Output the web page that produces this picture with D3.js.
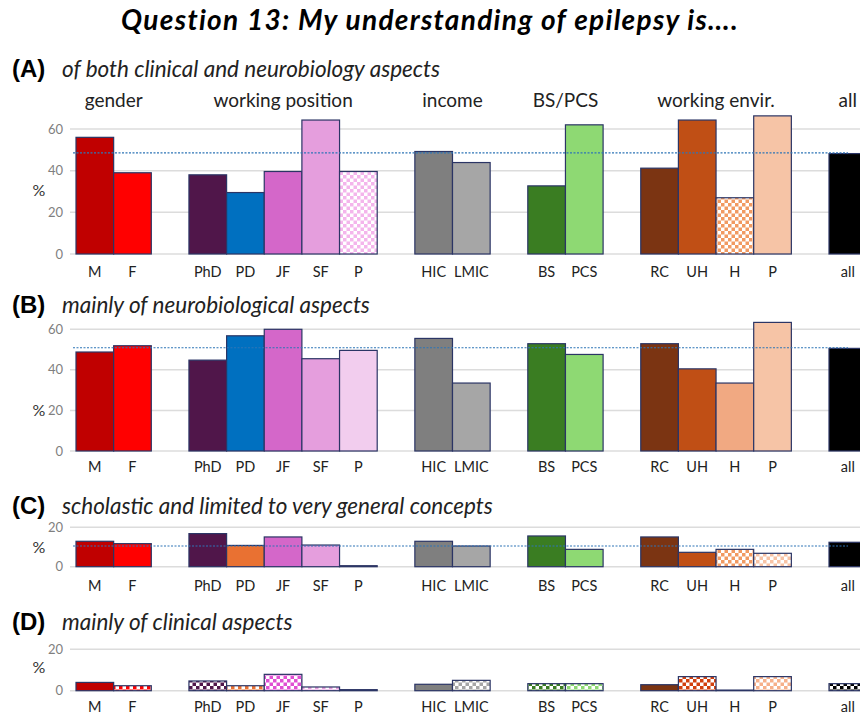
<!DOCTYPE html>
<html lang="en">
<head>
<meta charset="utf-8">
<script src="https://d3js.org/d3.v7.min.js"></script>
<style>
  body { margin: 0; background: #fff; }
  text { font-family: Lato, "Open Sans", sans-serif; }
</style>
</head>
<body>
<svg width="860" height="716"></svg>
<script>
// categories and the group each one belongs to
const categories = ["M", "F", "PhD", "PD", "JF", "SF", "P", "HIC", "LMIC", "BS", "PCS", "RC", "UH", "H", "P", "all"];
const groupOf = [0, 0, 1, 1, 1, 1, 1, 2, 2, 3, 3, 4, 4, 4, 4, 5];
const groupNames = ["gender", "working position", "income", "BS/PCS", "working envir.", "all"];

// percentages
const valuesA = [56, 39, 38, 29.5, 39.6, 64.3, 39.6, 49.2, 43.9, 32.7, 62, 41.2, 64.3, 27, 66.3, 48.2];
const valuesB = [48.8, 51.9, 44.8, 56.8, 60, 45.5, 49.6, 55.5, 33.5, 52.9, 47.6, 52.9, 40.5, 33.5, 63.4, 50.6];
const valuesC = [12.9, 11.7, 16.8, 10.8, 15.1, 11, 0.5, 12.9, 10.5, 15.6, 8.8, 15.1, 7.3, 8.8, 6.8, 12.4];
const valuesD = [4.0, 2.4, 4.7, 2.4, 7.9, 1.8, 0.5, 3.1, 5.0, 3.4, 3.4, 2.9, 6.8, 0.3, 6.8, 3.4];
const refLines = [48.5, 50.9, 10.5, null];

const ticksBig = [0, 20, 40, 60];
const ticksSmall = [0, 20];

// fills ("check:" = checkered on white)
const fillsA = ["#c00000", "#ff0000", "#50164a", "#0070c0", "#d467c9", "#e59edd", "check:#f4b5ec",
  "#7f7f7f", "#a6a6a6", "#3a7d22", "#8ed973", "#7b3412", "#c04f15", "check:#f19a62", "#f6c4a6", "#000000"];
const fillsB = ["#c00000", "#ff0000", "#50164a", "#0070c0", "#d467c9", "#e59edd", "#f2cdee",
  "#7f7f7f", "#a6a6a6", "#3a7d22", "#8ed973", "#7b3412", "#c04f15", "#f1a982", "#f6c4a6", "#000000"];
const fillsC = ["#c00000", "#ff0000", "#50164a", "#e97132", "#d467c9", "#e59edd", "#50164a",
  "#7f7f7f", "#a6a6a6", "#3a7d22", "#8ed973", "#7b3412", "#c04f15", "check:#f19a62", "check:#f8c3a5", "#000000"];
const fillsD = ["#c00000", "check:#ff0000", "check:#50164a", "check:#e97132", "check:#e04fd3", "check:#e59edd", "#50164a",
  "#7f7f7f", "check:#a6a6a6", "check:#3a7d22", "check:#8ed973", "#7b3412", "check:#d2400e", "#50164a", "check:#f6b08a", "check:#000000"];

const svg = d3.select("svg");
const defs = svg.append("defs");

// build checker patterns
const patternIds = {};
function fillFor(f) {
  if (!f.startsWith("check:")) return f;
  const c = f.slice(6);
  if (!patternIds[c]) {
    const id = "chk" + Object.keys(patternIds).length;
    patternIds[c] = id;
    const p = defs.append("pattern").attr("id", id)
      .attr("patternUnits", "userSpaceOnUse").attr("width", 7).attr("height", 7);
    p.append("rect").attr("width", 7).attr("height", 7).attr("fill", "#fff");
    p.append("rect").attr("width", 3.5).attr("height", 3.5).attr("fill", c);
    p.append("rect").attr("x", 3.5).attr("y", 3.5).attr("width", 3.5).attr("height", 3.5).attr("fill", c);
  }
  return "url(#" + patternIds[c] + ")";
}

// slots: categories plus one empty slot between groups
const x = d3.scaleBand().domain(d3.range(21)).range([76, 76 + 21 * 37.65]).padding(0);
const slot = (i) => i + groupOf[i];

// main title
svg.append("text").attr("x", 430).attr("y", 30).attr("text-anchor", "middle")
  .attr("font-size", 28).attr("font-weight", "bold").attr("font-style", "italic")
  .attr("letter-spacing", 1.3)
  .text("Question 13: My understanding of epilepsy is….");

const panels = [
  { tag: "(A)", title: "of both clinical and neurobiology aspects", values: valuesA, fills: fillsA, ref: refLines[0],
    max: 60, ticks: ticksBig, y0: 254, y1: 129, titleY: 77, labY: 277, pctY: 196 },
  { tag: "(B)", title: "mainly of neurobiological aspects", values: valuesB, fills: fillsB, ref: refLines[1],
    max: 60, ticks: ticksBig, y0: 451, y1: 329.3, titleY: 313, labY: 472, pctY: 416 },
  { tag: "(C)", title: "scholastic and limited to very general concepts", values: valuesC, fills: fillsC, ref: refLines[2],
    max: 20, ticks: ticksSmall, y0: 566.7, y1: 527.3, titleY: 514, labY: 591, pctY: 553 },
  { tag: "(D)", title: "mainly of clinical aspects", values: valuesD, fills: fillsD, ref: refLines[3],
    max: 20, ticks: ticksSmall, y0: 690.7, y1: 649.3, titleY: 630, labY: 712, pctY: 673 }
];

panels.forEach((p, pi) => {
  const y = d3.scaleLinear().domain([0, p.max]).range([p.y0, p.y1]);
  const g = svg.append("g");

  g.append("text").attr("x", 12).attr("y", p.titleY).attr("font-size", 24).attr("font-weight", "bold")
    .style("font-family", "'Liberation Sans', Arial, sans-serif").text(p.tag);
  g.append("text").attr("x", 62).attr("y", p.titleY).attr("font-size", 22.5).attr("font-style", "italic")
    .attr("fill", "#222").text(p.title);

  // gridlines
  g.selectAll(".grid").data(p.ticks).enter().append("line")
    .attr("x1", 70).attr("x2", 860).attr("y1", d => y(d)).attr("y2", d => y(d))
    .attr("stroke", "#dcdcdc").attr("stroke-width", 1.5);

  // y axis labels
  g.selectAll(".yt").data(p.ticks).enter().append("text")
    .attr("x", 63).attr("y", d => y(d) + 4.5).attr("text-anchor", "end")
    .attr("font-size", 13).attr("fill", "#7f7f7f").text(d => d);
  g.append("text").attr("x", 39).attr("y", p.pctY).attr("text-anchor", "middle")
    .attr("font-size", 16).attr("fill", "#333").text("%");

  // bars
  g.selectAll(".bar").data(p.values).enter().append("rect")
    .attr("x", (d, i) => x(slot(i)))
    .attr("width", x.bandwidth())
    .attr("y", d => y(d))
    .attr("height", d => y(0) - y(d))
    .attr("fill", (d, i) => fillFor(p.fills[i]))
    .attr("stroke", "#2b3565").attr("stroke-width", 1.2);

  // reference line
  if (p.ref !== null) {
    g.append("line").attr("x1", 73).attr("x2", 848).attr("y1", y(p.ref)).attr("y2", y(p.ref))
      .attr("stroke", "#2e75b6").attr("stroke-width", 1.2).attr("stroke-dasharray", "2,1.5");
  }

  // category labels
  g.selectAll(".xl").data(categories).enter().append("text")
    .attr("x", (d, i) => x(slot(i)) + x.bandwidth() / 2).attr("y", p.labY)
    .attr("text-anchor", "middle").attr("font-size", 14.5).attr("fill", "#222").text(d => d);

  // group names only above the first panel
  if (pi === 0) {
    groupNames.forEach((name, gi) => {
      const idx = d3.range(categories.length).filter(i => groupOf[i] === gi);
      const cx = (x(slot(idx[0])) + x(slot(idx[idx.length - 1])) + x.bandwidth()) / 2;
      g.append("text").attr("x", cx).attr("y", 107).attr("text-anchor", "middle")
        .attr("font-size", 19).attr("fill", "#222").text(name);
    });
  }
});
</script>
</body>
</html>
